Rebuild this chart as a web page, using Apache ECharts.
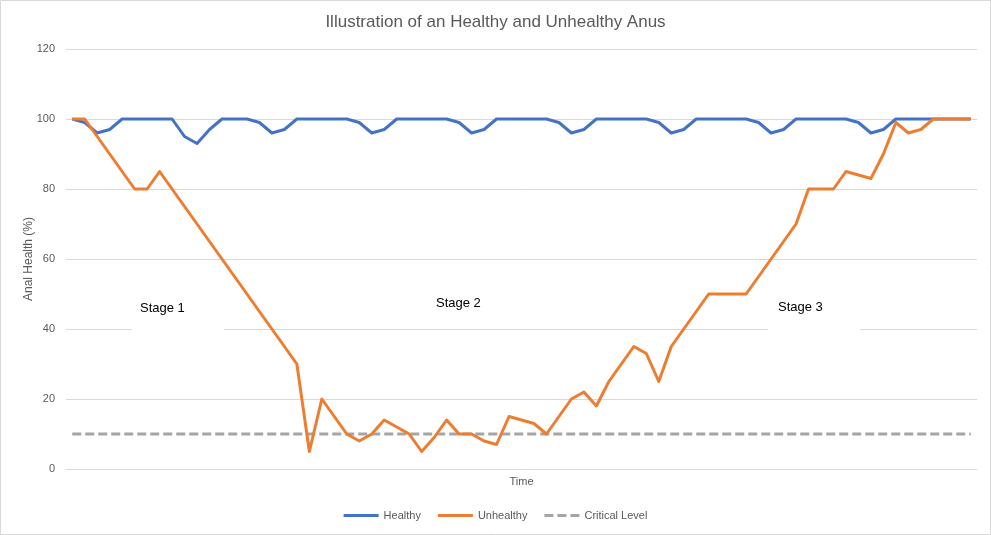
<!DOCTYPE html>
<html>
<head>
<meta charset="utf-8">
<script src="https://cdn.jsdelivr.net/npm/echarts@6/dist/echarts.min.js"></script>
<style>
html,body{margin:0;padding:0;background:#fff;}
#chart{width:991px;height:535px;}
</style>
</head>
<body>
<div id="chart"></div>
<script>
const titleText = 'Illustration of an Healthy and Unhealthy Anus';
const yTicks = [0, 20, 40, 60, 80, 100, 120];
const timeSteps = Array.from({length: 73}, (_, i) => String(i + 1));
const healthy = [100,99,96,97,100,100,100,100,100,95,93,97,100,100,100,99,96,97,100,100,
  100,100,100,99,96,97,100,100,100,100,100,99,96,97,100,100,100,100,100,99,
  96,97,100,100,100,100,100,99,96,97,100,100,100,100,100,99,96,97,100,100,
  100,100,100,99,96,97,100,100,100,100,100,100,100];
const unhealthy = [100,100,95,90,85,80,80,85,80,75,70,65,60,55,50,45,40,35,30,5,
  20,15,10,8,10,14,12,10,5,9,14,10,10,8,7,15,14,13,10,15,
  20,22,18,25,30,35,33,25,35,40,45,50,50,50,50,55,60,65,70,80,
  80,80,85,84,83,90,99,96,97,100,100,100,100];
const criticalLevel = timeSteps.map(() => 10);
const stageLabels = ['Stage 1', 'Stage 2', 'Stage 3'];

const chart = echarts.init(document.getElementById('chart'));
const small = "'Liberation Sans', Arial, sans-serif";
const solidIcon = 'path://M0,0H35V3H0Z';
const dashIcon = 'path://M0,0H9V3H0Z M13,0H22V3H13Z M26,0H35V3H26Z';
chart.setOption({
  animation: false,
  backgroundColor: '#ffffff',
  title: {
    text: titleText, left: 'center', top: 9,
    textStyle: {fontFamily: small, fontSize: 17, fontWeight: 'normal', color: '#595959'}
  },
  grid: {left: 66, right: 14, top: 49, bottom: 66},
  legend: {
    bottom: 9, left: 'center', itemWidth: 35, itemHeight: 3, itemGap: 17,
    textStyle: {fontFamily: small, fontSize: 11, color: '#595959'},
    data: [
      {name: 'Healthy', icon: solidIcon},
      {name: 'Unhealthy', icon: solidIcon},
      {name: 'Critical Level', icon: dashIcon}
    ]
  },
  xAxis: {
    type: 'category', data: timeSteps, boundaryGap: true,
    name: 'Time', nameLocation: 'middle', nameGap: 7,
    nameTextStyle: {fontFamily: small, fontSize: 11, color: '#595959'},
    axisLine: {lineStyle: {color: '#d9d9d9'}}, axisTick: {show: false}, axisLabel: {show: false}
  },
  yAxis: {
    type: 'value', min: yTicks[0], max: yTicks[yTicks.length - 1], interval: 20,
    name: 'Anal Health (%)', nameLocation: 'middle', nameGap: 31, nameMoveOverlap: false,
    nameTextStyle: {fontFamily: small, fontSize: 12, color: '#595959'},
    axisLine: {show: false}, axisTick: {show: false},
    axisLabel: {fontFamily: small, fontSize: 11, color: '#595959', margin: 11},
    splitLine: {lineStyle: {color: '#d9d9d9', width: 1}}
  },
  graphic: [
    {type: 'rect', shape: {x: 0.5, y: 0.5, width: 990, height: 534}, style: {fill: 'none', stroke: '#d9d9d9', lineWidth: 1}, z: 0},
    {type: 'rect', shape: {x: 132, y: 292, width: 92, height: 42}, style: {fill: '#ffffff'}, z: 1},
    {type: 'rect', shape: {x: 768, y: 292, width: 92, height: 42}, style: {fill: '#ffffff'}, z: 1},
    {type: 'text', x: 140, y: 308, z: 3, style: {text: stageLabels[0], fill: '#000', font: "13px 'Liberation Sans', Arial, sans-serif", textVerticalAlign: 'middle'}},
    {type: 'text', x: 436, y: 303, z: 3, style: {text: stageLabels[1], fill: '#000', font: "13px 'Liberation Sans', Arial, sans-serif", textVerticalAlign: 'middle'}},
    {type: 'text', x: 778, y: 307, z: 3, style: {text: stageLabels[2], fill: '#000', font: "13px 'Liberation Sans', Arial, sans-serif", textVerticalAlign: 'middle'}}
  ],
  series: [
    {name: 'Healthy', type: 'line', data: healthy, symbol: 'none', z: 2,
     lineStyle: {color: '#4472C4', width: 3, join: 'round'}, itemStyle: {color: '#4472C4'}},
    {name: 'Unhealthy', type: 'line', data: unhealthy, symbol: 'none', z: 3,
     lineStyle: {color: '#ED7D31', width: 3, join: 'round'}, itemStyle: {color: '#ED7D31'}},
    {name: 'Critical Level', type: 'line', data: criticalLevel, symbol: 'none', z: 2,
     lineStyle: {color: '#A5A5A5', width: 3, type: [9, 4]}, itemStyle: {color: '#A5A5A5'}}
  ]
});
</script>
</body>
</html>
